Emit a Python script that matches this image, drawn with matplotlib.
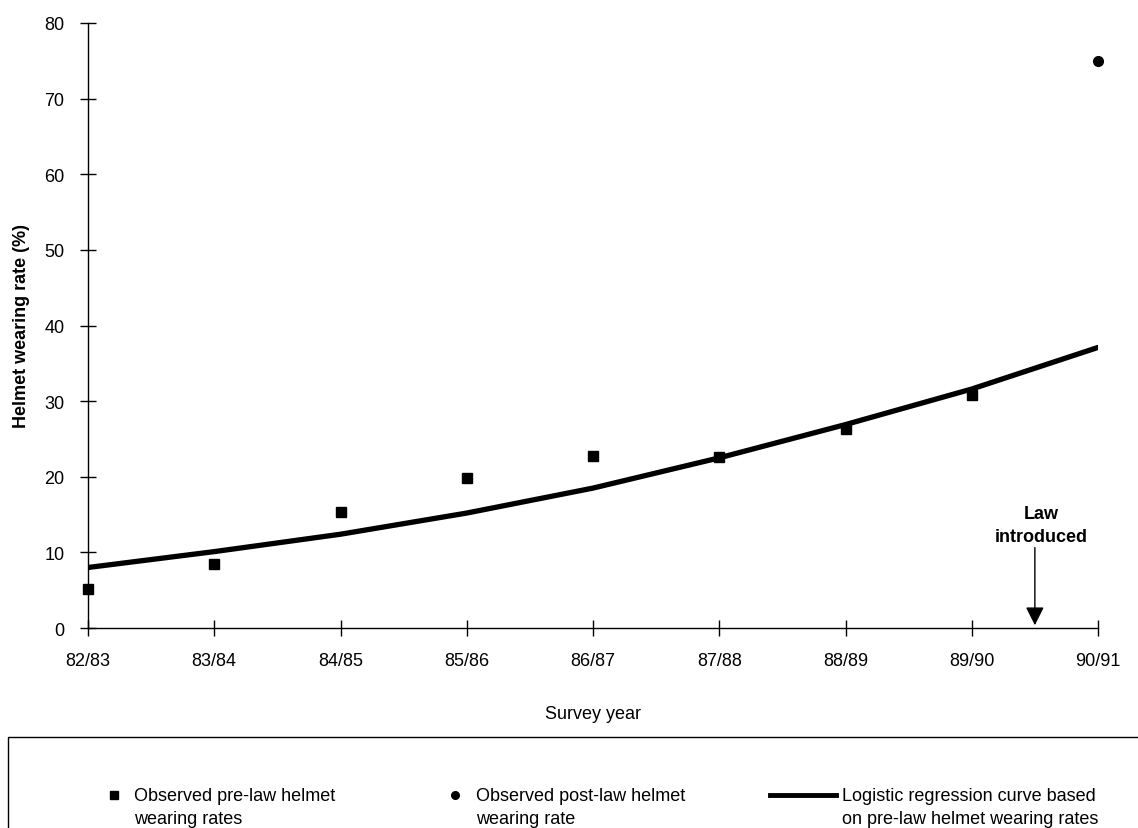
import numpy as np
import matplotlib
matplotlib.use("Agg")
import matplotlib.pyplot as plt
from matplotlib.lines import Line2D
from matplotlib.patches import Rectangle

plt.rcParams['font.family'] = ['Liberation Sans', 'DejaVu Sans']

# данные
years = ['82/83', '83/84', '84/85', '85/86', '86/87', '87/88', '88/89', '89/90', '90/91']
pre_law = [5.1, 8.4, 15.3, 19.8, 22.7, 22.6, 26.3, 30.8]
post_law = [75.0]
curve = [8.0, 10.1, 12.4, 15.2, 18.5, 22.5, 26.9, 31.6, 37.1]
law_pos = 7.5

W, H = 1138, 829
fig = plt.figure(figsize=(W / 100, H / 100), dpi=100)
ax = fig.add_axes([88 / W, 1 - 629 / H, (1098 - 88) / W, (629 - 24) / H])

x = np.arange(len(years))
ax.plot(x, curve, color='black', lw=3.8, solid_capstyle='round', zorder=2)
ax.plot(x[:len(pre_law)], pre_law, 's', color='black', ms=6.5, zorder=3, clip_on=False)
ax.plot(x[len(pre_law):], post_law, 'o', color='black', ms=7, zorder=3, clip_on=False)

ax.set_xlim(0, len(years) - 1)
ax.set_ylim(0, 80)
ax.set_xticks(x)
ax.set_xticklabels(years)
ax.set_yticks(np.arange(0, 81, 10))
for s in ['top', 'right']:
    ax.spines[s].set_visible(False)
for s in ['left', 'bottom']:
    ax.spines[s].set_linewidth(1.0)
ax.tick_params(axis='both', direction='inout', length=12, width=1.0, labelsize=13)
ax.tick_params(axis='x', pad=11)
ax.tick_params(axis='y', pad=11)

ax.set_xlabel('Survey year', fontsize=13, labelpad=26)
ax.set_ylabel('Helmet wearing rate (%)', fontsize=13, fontweight='bold', labelpad=10)

# стрелка "Law introduced"
ax.annotate('', xy=(law_pos, 0), xytext=(law_pos, 11),
            arrowprops=dict(arrowstyle='-|>', color='black', lw=1.0, mutation_scale=28))
ax.text(law_pos + 0.05, 13.6, 'Law\nintroduced', ha='center', va='center',
        fontsize=13, fontweight='bold', linespacing=1.5)

# легенда — рисуем вручную в координатах фигуры
def fx(px):
    return px / W

def fy(py):
    return 1 - py / H

fig.add_artist(Rectangle((fx(8), fy(H + 10)), fx(W + 20), fy(738) - fy(H + 10),
                         transform=fig.transFigure, fill=False, lw=1.0, ec='black'))
row = 796
top = 788
fig.add_artist(Line2D([fx(114)], [fy(row)], marker='s', ms=5.5, color='black',
                      transform=fig.transFigure))
fig.text(fx(134), fy(top), 'Observed pre-law helmet\nwearing rates', fontsize=13,
         va='top', ha='left', linespacing=1.45, transform=fig.transFigure)
fig.add_artist(Line2D([fx(455)], [fy(row)], marker='o', ms=5.5, color='black',
                      transform=fig.transFigure))
fig.text(fx(476), fy(top), 'Observed post-law helmet\nwearing rate', fontsize=13,
         va='top', ha='left', linespacing=1.45, transform=fig.transFigure)
fig.add_artist(Line2D([fx(770), fx(836)], [fy(row), fy(row)], lw=3.5, color='black',
                      transform=fig.transFigure))
fig.text(fx(842), fy(top), 'Logistic regression curve based\non pre-law helmet wearing rates',
         fontsize=13, va='top', ha='left', linespacing=1.45, transform=fig.transFigure)

fig.savefig('out.png', dpi=100)
